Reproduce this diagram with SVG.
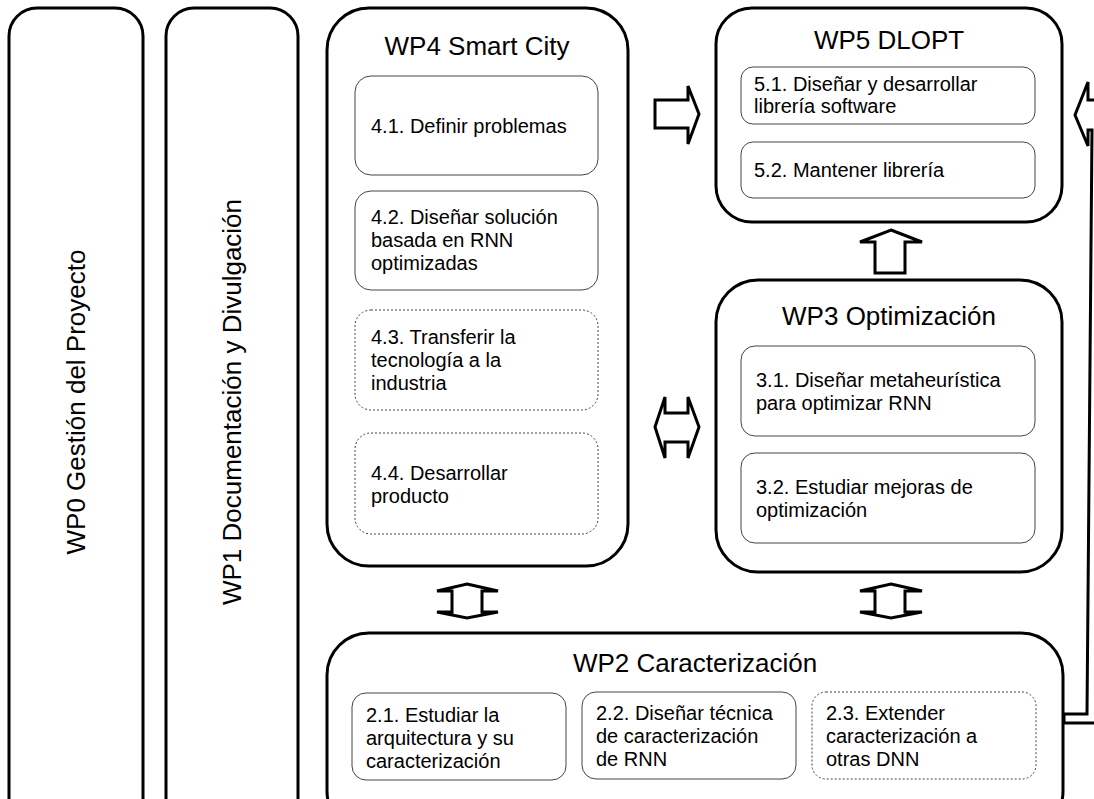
<svg xmlns="http://www.w3.org/2000/svg" width="1094" height="799" viewBox="0 0 1094 799">
<style>
.wp{fill:#fff;stroke:#000;stroke-width:3}
.box{fill:#fff;stroke:#444;stroke-width:1}
.dot{fill:#fff;stroke:#444;stroke-width:1;stroke-dasharray:2,2}
.arr{fill:#fff;stroke:#000;stroke-width:3;stroke-linejoin:miter}
.t{font-family:"Liberation Sans",Arial,sans-serif;font-size:20px;fill:#000}
.h{font-family:"Liberation Sans",Arial,sans-serif;font-size:26px;fill:#000}
</style>
<rect width="1094" height="799" fill="#fff"/>
<g id="WP0">
<rect class="wp" x="9" y="8" width="134" height="820" rx="28"/>
<text class="h" transform="translate(85,402) rotate(-90)" text-anchor="middle">WP0 Gestión del Proyecto</text>
</g>
<g id="WP1">
<rect class="wp" x="166" y="8" width="132" height="820" rx="28"/>
<text class="h" transform="translate(241,402) rotate(-90)" text-anchor="middle">WP1 Documentación y Divulgación</text>
</g>
<g id="WP4">
<rect class="wp" x="327" y="8" width="301" height="558" rx="42"/>
<text class="h" x="477" y="55" text-anchor="middle">WP4 Smart City</text>
</g>
<g id="T41"><rect class="box" x="355" y="76" width="243" height="99" rx="16"/><text class="t" x="371" y="133">4.1. Definir problemas</text></g>
<g id="T42"><rect class="box" x="355" y="191" width="243" height="99" rx="16"/><text class="t" x="371" y="224">4.2. Diseñar solución</text><text class="t" x="371" y="247">basada en RNN</text><text class="t" x="371" y="270">optimizadas</text></g>
<g id="T43"><rect class="dot" x="355" y="310" width="243" height="100" rx="16"/><text class="t" x="371" y="344">4.3. Transferir la</text><text class="t" x="371" y="367">tecnología a la</text><text class="t" x="371" y="390">industria</text></g>
<g id="T44"><rect class="dot" x="355" y="433" width="243" height="101" rx="16"/><text class="t" x="371" y="480">4.4. Desarrollar</text><text class="t" x="371" y="503">producto</text></g>
<g id="WP5">
<rect class="wp" x="716" y="8" width="346" height="214" rx="36"/>
<text class="h" x="889" y="49" text-anchor="middle">WP5 DLOPT</text>
</g>
<g id="T51"><rect class="box" x="741" y="67" width="294" height="57" rx="12"/><text class="t" x="754" y="91">5.1. Diseñar y desarrollar</text><text class="t" x="754" y="113">librería software</text></g>
<g id="T52"><rect class="box" x="741" y="142" width="294" height="56" rx="12"/><text class="t" x="754" y="177">5.2. Mantener librería</text></g>
<g id="WP3">
<rect class="wp" x="716" y="280" width="346" height="292" rx="42"/>
<text class="h" x="889" y="325" text-anchor="middle">WP3 Optimización</text>
</g>
<g id="T31"><rect class="box" x="741" y="346" width="294" height="90" rx="14"/><text class="t" x="756" y="387">3.1. Diseñar metaheurística</text><text class="t" x="756" y="410">para optimizar RNN</text></g>
<g id="T32"><rect class="box" x="741" y="453" width="294" height="90" rx="14"/><text class="t" x="756" y="494">3.2. Estudiar mejoras de</text><text class="t" x="756" y="517">optimización</text></g>
<g id="WP2">
<rect class="wp" x="327" y="633" width="736" height="200" rx="42"/>
<text class="h" x="695" y="672" text-anchor="middle">WP2 Caracterización</text>
</g>
<g id="T21"><rect class="box" x="352" y="693" width="214" height="87" rx="14"/><text class="t" x="366" y="722">2.1. Estudiar la</text><text class="t" x="366" y="745">arquitectura y su</text><text class="t" x="366" y="768">caracterización</text></g>
<g id="T22"><rect class="box" x="582" y="692" width="214" height="87" rx="14"/><text class="t" x="596" y="720">2.2. Diseñar técnica</text><text class="t" x="596" y="743">de caracterización</text><text class="t" x="596" y="766">de RNN</text></g>
<g id="T23"><rect class="dot" x="812" y="692" width="224" height="87" rx="14"/><text class="t" x="826" y="720">2.3. Extender</text><text class="t" x="826" y="743">caracterización a</text><text class="t" x="826" y="766">otras DNN</text></g>
<g id="connectors">
<path class="arr" d="M655,100 L688,100 L688,86 L699,114 L688,144 L688,128 L655,128 Z"/>
<path class="arr" d="M655,427 L665,397 L665,413 L688,413 L688,397 L699,427 L688,458 L688,442 L665,442 L665,458 Z"/>
<path class="arr" d="M467,584 L498,591 L482,591 L482,612 L498,612 L467,618 L437,612 L452,612 L452,591 L437,591 Z"/>
<path class="arr" d="M891,584 L922,591 L905,591 L905,612 L922,612 L891,618 L860,612 L875,612 L875,591 L860,591 Z"/>
<path class="arr" d="M891,230 L922,242 L905,242 L905,273 L875,273 L875,242 L860,242 Z"/>
<path class="arr" d="M1075,115 L1088,82 L1088,100 L1100,100 L1100,723 L1064,723 L1064,714 L1087,714 L1092,130 L1088,130 L1088,146 Z"/>
</g>
</svg>
